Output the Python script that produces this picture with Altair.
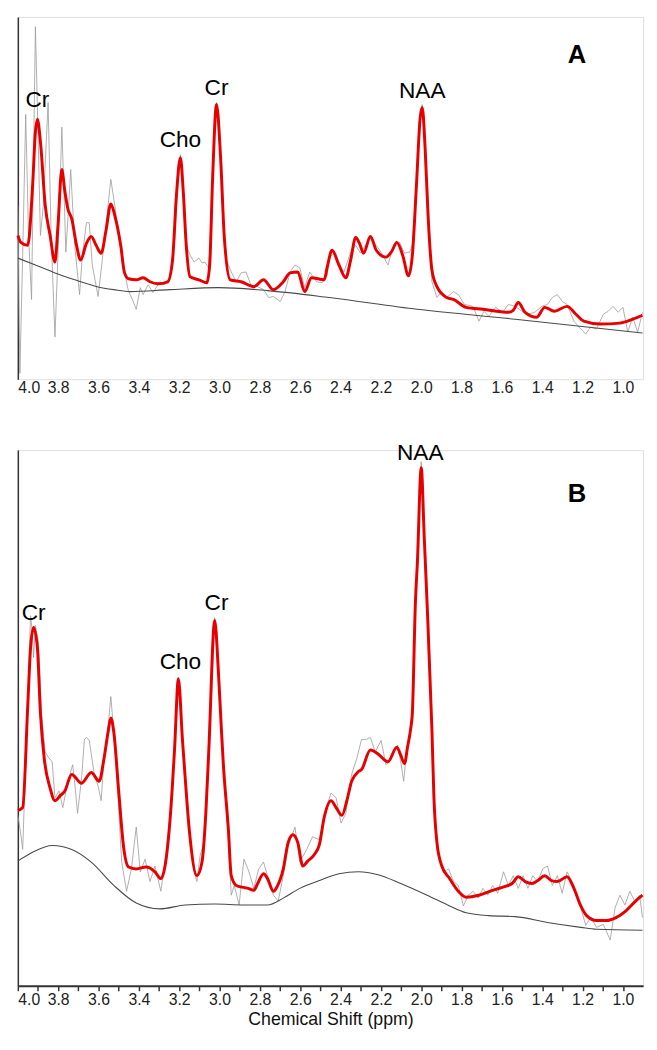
import altair as alt
import pandas as pd

# ---------------- Panel A ----------------
a_fit_ppm = [4.000, 3.985, 3.951, 3.927, 3.913, 3.903, 3.888, 3.864, 3.840, 3.816,
             3.801, 3.782, 3.767, 3.752, 3.733, 3.709, 3.689, 3.660, 3.636, 3.612,
             3.587, 3.563, 3.539, 3.519, 3.490, 3.471, 3.451, 3.413, 3.379, 3.345,
             3.306, 3.257, 3.233, 3.214, 3.194, 3.180, 3.165, 3.146, 3.102, 3.063,
             3.049, 3.034, 3.015, 2.995, 2.976, 2.947, 2.893, 2.830, 2.782, 2.733,
             2.684, 2.650, 2.612, 2.578, 2.544, 2.481, 2.466, 2.442, 2.408, 2.374,
             2.350, 2.325, 2.306, 2.286, 2.252, 2.223, 2.175, 2.146, 2.121, 2.092,
             2.063, 2.044, 2.024, 2.005, 1.995, 1.981, 1.966, 1.947, 1.922, 1.874,
             1.840, 1.777, 1.694, 1.568, 1.544, 1.519, 1.485, 1.427, 1.388, 1.340,
             1.277, 1.233, 1.194, 1.112, 1.015, 0.951, 0.903]
a_fit_val = [145, 138, 135, 195, 250, 263, 240, 175, 145, 118,
             155, 212, 190, 172, 162, 135, 120, 137, 144, 135,
             127, 150, 177, 165, 135, 107, 101, 100, 102, 98,
             96, 98, 120, 185, 224, 190, 135, 103, 100, 97,
             115, 205, 278, 225, 142, 100, 98, 93, 100, 90,
             98, 107, 108, 88, 102, 100, 113, 130, 115, 102,
             120, 143, 137, 127, 144, 130, 123, 129, 138, 125,
             104, 125, 195, 265, 275, 235, 165, 110, 93, 82,
             80, 72, 70, 67, 69, 77, 67, 62, 72, 68,
             73, 65, 58, 55, 56, 60, 64]

a_base_ppm = [4.000, 3.913, 3.816, 3.718, 3.607, 3.524, 3.442, 3.248, 3.005, 2.762,
              2.456, 2.019, 1.534, 0.903]
a_base_val = [122, 115, 107, 100, 93, 90, 88, 90, 92, 89,
              82, 70, 60, 46]

a_raw_ppm = [4.000, 3.990, 3.976, 3.961, 3.947, 3.932, 3.922, 3.913, 3.903, 3.888,
             3.874, 3.850, 3.835, 3.816, 3.801, 3.782, 3.772, 3.762, 3.748, 3.738,
             3.718, 3.694, 3.680, 3.660, 3.646, 3.631, 3.602, 3.573, 3.553, 3.539,
             3.519, 3.500, 3.476, 3.451, 3.432, 3.413, 3.393, 3.379, 3.354, 3.330,
             3.296, 3.272, 3.248, 3.223, 3.209, 3.194, 3.180, 3.165, 3.146, 3.126,
             3.102, 3.087, 3.073, 3.053, 3.039, 3.024, 3.015, 3.000, 2.985, 2.966,
             2.942, 2.917, 2.893, 2.869, 2.845, 2.811, 2.782, 2.757, 2.733, 2.699,
             2.675, 2.650, 2.626, 2.602, 2.578, 2.553, 2.519, 2.490, 2.466, 2.456,
             2.432, 2.408, 2.383, 2.350, 2.325, 2.301, 2.277, 2.252, 2.223, 2.199,
             2.165, 2.141, 2.107, 2.083, 2.058, 2.044, 2.024, 2.010, 1.995, 1.981,
             1.966, 1.947, 1.922, 1.898, 1.874, 1.840, 1.816, 1.786, 1.743, 1.714,
             1.689, 1.665, 1.631, 1.597, 1.568, 1.534, 1.500, 1.471, 1.437, 1.403,
             1.374, 1.350, 1.325, 1.301, 1.277, 1.243, 1.209, 1.184, 1.160, 1.131,
             1.097, 1.073, 1.049, 1.024, 1.000, 0.976, 0.951, 0.927, 0.903]
a_raw_val = [175, 5, 125, 268, 145, 80, 225, 357, 275, 145,
             175, 280, 145, 42, 125, 255, 195, 128, 175, 212,
             135, 85, 125, 158, 158, 115, 83, 135, 175, 202,
             175, 145, 112, 88, 80, 70, 92, 85, 95, 87,
             98, 95, 102, 140, 190, 227, 190, 135, 125, 118,
             122, 117, 118, 112, 175, 255, 280, 245, 175, 120,
             108, 98, 107, 108, 95, 93, 90, 82, 83, 78,
             88, 108, 115, 112, 92, 108, 98, 97, 105, 122,
             127, 115, 108, 128, 135, 127, 135, 142, 135, 128,
             115, 132, 138, 127, 128, 135, 195, 260, 278, 240,
             170, 98, 82, 88, 82, 88, 85, 75, 73, 58,
             68, 63, 72, 67, 75, 73, 68, 65, 67, 73,
             75, 82, 85, 78, 75, 58, 50, 45, 52, 50,
             65, 68, 73, 67, 72, 47, 62, 47, 67]

a_lab_name = ["Cr", "Cho", "Cr", "NAA"]
a_lab_ppm = [3.903, 3.194, 3.015, 1.995]
a_lab_val = [282, 242, 295, 292]

# ---------------- Panel B ----------------
b_fit_ppm = [4.000, 3.976, 3.951, 3.937, 3.922, 3.903, 3.888, 3.869, 3.840, 3.816,
             3.791, 3.767, 3.733, 3.684, 3.636, 3.597, 3.573, 3.553, 3.539, 3.524,
             3.500, 3.476, 3.451, 3.413, 3.364, 3.320, 3.291, 3.267, 3.243, 3.223,
             3.204, 3.184, 3.175, 3.150, 3.112, 3.087, 3.068, 3.053, 3.024, 3.005,
             2.990, 2.981, 2.956, 2.942, 2.917, 2.859, 2.830, 2.811, 2.782, 2.762,
             2.733, 2.714, 2.684, 2.660, 2.636, 2.612, 2.587, 2.563, 2.529, 2.505,
             2.481, 2.447, 2.422, 2.393, 2.369, 2.345, 2.311, 2.296, 2.252, 2.214,
             2.165, 2.121, 2.102, 2.083, 2.068, 2.053, 2.044, 2.029, 2.019, 2.000,
             1.985, 1.971, 1.947, 1.937, 1.922, 1.898, 1.859, 1.816, 1.777, 1.714,
             1.646, 1.583, 1.549, 1.519, 1.485, 1.451, 1.422, 1.388, 1.354, 1.325,
             1.277, 1.243, 1.209, 1.180, 1.131, 1.083, 1.034, 0.985, 0.937, 0.903]
b_fit_val = [180, 183, 287, 347, 368, 347, 280, 233, 203, 190,
             195, 200, 217, 208, 219, 210, 233, 260, 275, 260,
             200, 143, 122, 120, 122, 117, 110, 127, 177, 243,
             315, 253, 227, 160, 113, 127, 177, 243, 375, 320,
             260, 227, 160, 113, 103, 100, 98, 105, 115, 110,
             97, 102, 120, 147, 155, 147, 123, 128, 135, 145,
             173, 190, 183, 175, 190, 210, 220, 222, 242, 238,
             230, 245, 237, 228, 245, 263, 280, 393, 435, 532,
             460, 393, 263, 193, 147, 123, 110, 97, 91, 93,
             98, 102, 105, 112, 107, 105, 108, 113, 108, 107,
             112, 100, 82, 72, 67, 67, 70, 77, 87, 93]

b_base_ppm = [4.000, 3.927, 3.830, 3.733, 3.636, 3.524, 3.413, 3.296, 3.170, 3.024,
              2.879, 2.762, 2.684, 2.602, 2.505, 2.408, 2.311, 2.214, 2.102, 1.971,
              1.859, 1.777, 1.665, 1.534, 1.374, 1.209, 1.131, 0.903]
b_base_val = [128, 137, 144, 140, 127, 103, 85, 79, 83, 84,
              83, 83, 90, 100, 108, 115, 117, 114, 105, 93,
              82, 75, 72, 71, 65, 60, 58, 57]

b_raw_ppm = [4.000, 3.985, 3.976, 3.966, 3.951, 3.937, 3.927, 3.922, 3.913, 3.898,
             3.883, 3.864, 3.850, 3.830, 3.816, 3.796, 3.777, 3.752, 3.728, 3.714,
             3.704, 3.684, 3.670, 3.660, 3.646, 3.621, 3.602, 3.587, 3.573, 3.553,
             3.539, 3.524, 3.505, 3.485, 3.461, 3.437, 3.413, 3.393, 3.369, 3.345,
             3.320, 3.291, 3.267, 3.243, 3.223, 3.204, 3.184, 3.170, 3.150, 3.126,
             3.112, 3.097, 3.078, 3.063, 3.049, 3.024, 3.005, 2.990, 2.976, 2.956,
             2.942, 2.927, 2.903, 2.879, 2.854, 2.830, 2.806, 2.782, 2.762, 2.733,
             2.709, 2.684, 2.660, 2.626, 2.602, 2.568, 2.539, 2.505, 2.471, 2.447,
             2.422, 2.398, 2.374, 2.345, 2.320, 2.296, 2.272, 2.252, 2.228, 2.199,
             2.175, 2.150, 2.136, 2.117, 2.102, 2.087, 2.073, 2.058, 2.044, 2.029,
             2.019, 2.000, 1.985, 1.971, 1.947, 1.937, 1.922, 1.888, 1.864, 1.840,
             1.816, 1.791, 1.767, 1.743, 1.718, 1.694, 1.670, 1.646, 1.621, 1.592,
             1.568, 1.544, 1.519, 1.495, 1.471, 1.447, 1.422, 1.398, 1.374, 1.350,
             1.325, 1.301, 1.277, 1.243, 1.209, 1.184, 1.160, 1.131, 1.097, 1.063,
             1.039, 1.015, 0.990, 0.966, 0.942, 0.917, 0.903]
b_raw_val = [175, 155, 140, 200, 290, 380, 360, 337, 370, 353,
             280, 240, 235, 230, 193, 200, 183, 210, 227, 200,
             177, 213, 253, 255, 252, 217, 205, 190, 233, 265,
             297, 260, 200, 127, 97, 120, 163, 117, 130, 107,
             123, 97, 133, 177, 243, 317, 253, 210, 160, 117,
             107, 133, 147, 200, 260, 378, 320, 260, 210, 150,
             93, 103, 83, 130, 117, 100, 120, 127, 113, 93,
             87, 113, 143, 163, 127, 140, 153, 150, 183, 198,
             193, 167, 177, 217, 233, 253, 253, 255, 240, 252,
             227, 233, 240, 247, 230, 210, 240, 255, 285, 393,
             440, 538, 465, 393, 260, 190, 140, 117, 120, 107,
             103, 82, 93, 97, 90, 100, 93, 103, 95, 117,
             103, 113, 100, 113, 100, 113, 107, 120, 123, 103,
             113, 95, 117, 103, 80, 62, 70, 60, 63, 47,
             80, 93, 83, 97, 87, 93, 70]

b_lab_name = ["Cr", "Cho", "Cr", "NAA"]
b_lab_ppm = [3.922, 3.194, 3.015, 2.005]
b_lab_val = [383, 332, 393, 547]

# axis tick values
major_ticks = [4.0, 3.8, 3.6, 3.4, 3.2, 3.0, 2.8, 2.6, 2.4, 2.2, 2.0, 1.8, 1.6, 1.4, 1.2, 1.0]
all_ticks = [4.0, 3.9, 3.8, 3.7, 3.6, 3.5, 3.4, 3.3, 3.2, 3.1, 3.0, 2.9, 2.8, 2.7, 2.6,
             2.5, 2.4, 2.3, 2.2, 2.1, 2.0, 1.9, 1.8, 1.7, 1.6, 1.5, 1.4, 1.3, 1.2, 1.1, 1.0]

FONT = "Liberation Sans"
W = 635


def df(p, v):
    return pd.DataFrame({"ppm": p, "val": v})


def panel(fit, base, raw, labs, letter, ydom, height, xaxis):
    xs = alt.Scale(domain=[4.0, 0.9], nice=False, zero=False)
    ys = alt.Scale(domain=ydom, nice=False, zero=False)
    yaxis = alt.Axis(labels=False, ticks=False, title=None, grid=False,
                     domainColor="#333333", domainWidth=1.5)
    x_enc = alt.X("ppm:Q", scale=xs, axis=xaxis)
    y_enc = alt.Y("val:Q", scale=ys, axis=yaxis)
    order = alt.Order("ppm:Q", sort="descending")

    raw_l = alt.Chart(df(*raw)).mark_line(color="#9a9a9a", strokeWidth=0.8).encode(
        x=x_enc, y=y_enc, order=order)
    base_l = alt.Chart(df(*base)).mark_line(color="#4a4a4a", strokeWidth=1.1,
                                             interpolate="monotone").encode(
        x=x_enc, y=y_enc, order=order)
    fit_l = alt.Chart(df(*fit)).mark_line(color="#e60000", strokeWidth=3,
                                           interpolate="monotone").encode(
        x=x_enc, y=y_enc, order=order)
    lab_df = pd.DataFrame({"ppm": labs[1], "val": labs[2], "name": labs[0]})
    lab_t = alt.Chart(lab_df).mark_text(font=FONT, fontSize=23, color="black",
                                        baseline="middle").encode(
        x=x_enc, y=y_enc, text="name:N")
    let_df = pd.DataFrame({"ppm": [letter[1]], "val": [letter[2]], "name": [letter[0]]})
    let_t = alt.Chart(let_df).mark_text(font=FONT, fontSize=26, fontWeight="bold",
                                        color="black", baseline="middle").encode(
        x=x_enc, y=y_enc, text="name:N")
    return alt.layer(raw_l, base_l, fit_l, lab_t, let_t).properties(width=W, height=height)


axis_a = alt.Axis(values=major_ticks, format=".1f", domain=False, ticks=False,
                  labelFlush=True, labelPadding=0, labelFontSize=16, labelFont=FONT,
                  labelColor="#222222", labelOverlap=False, title=None, grid=False)
axis_b = alt.Axis(values=all_ticks,
                  labelExpr="round(datum.value*10) % 2 == 0 ? format(datum.value, '.1f') : ''",
                  domain=True, domainColor="#333333", domainWidth=2,
                  ticks=True, tickSize=5, tickWidth=1.5, tickColor="#333333",
                  labelFlush=True, labelPadding=1, labelFontSize=16, labelFont=FONT,
                  labelColor="#222222", labelOverlap=False, grid=False,
                  title="Chemical Shift (ppm)", titleFont=FONT, titleFontSize=18,
                  titleFontWeight="normal", titleColor="#111111", titlePadding=3)

panel_a = panel((a_fit_ppm, a_fit_val), (a_base_ppm, a_base_val), (a_raw_ppm, a_raw_val),
                (a_lab_name, a_lab_ppm, a_lab_val), ("A", 1.228, 328),
                [-1, 367], 368, axis_a)
panel_b = panel((b_fit_ppm, b_fit_val), (b_base_ppm, b_base_val), (b_raw_ppm, b_raw_val),
                (b_lab_name, b_lab_ppm, b_lab_val), ("B", 1.228, 505),
                [0, 550], 544, axis_b)

chart = alt.vconcat(panel_a, panel_b, spacing=72, bounds="flush").properties(
    padding={"left": 3, "top": 0, "right": 0, "bottom": 0}
).configure_view(stroke=None).configure(font=FONT)

chart.save("out.html", embed_options={"renderer": "svg", "actions": False})
